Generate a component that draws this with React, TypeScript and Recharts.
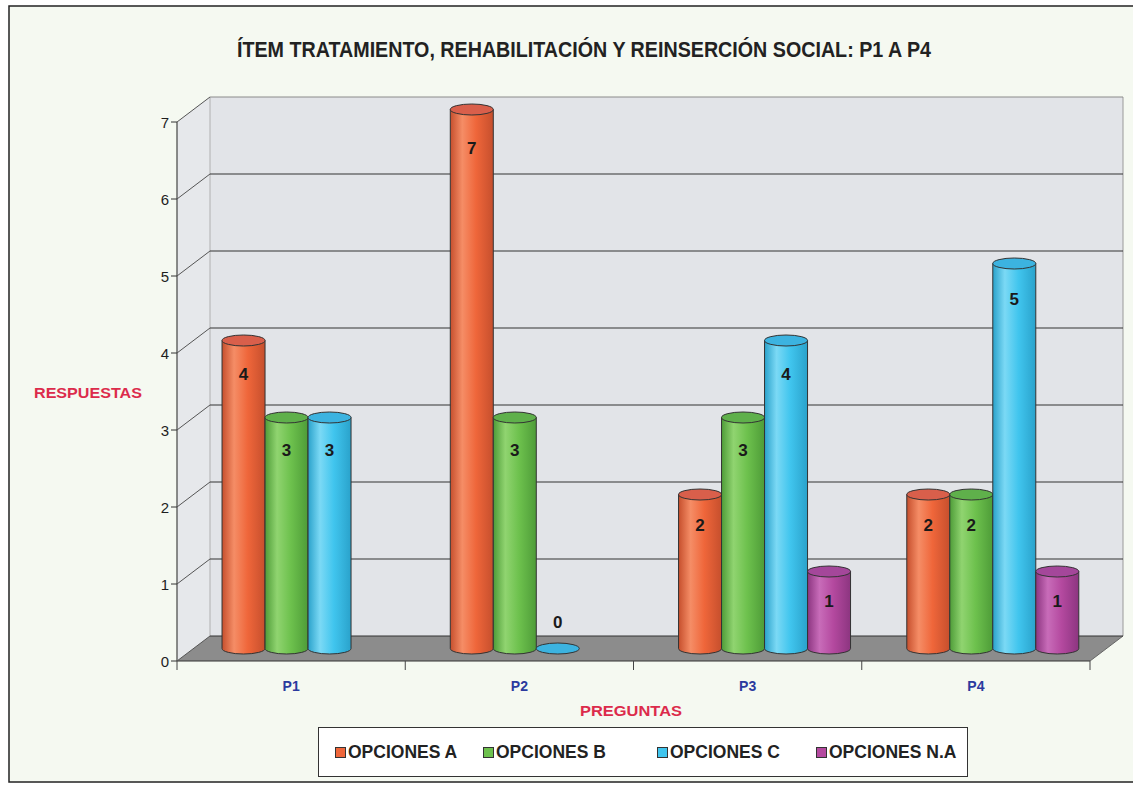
import React from 'react';
import { BarChart, Bar, XAxis, YAxis, CartesianGrid, LabelList, Legend } from 'recharts';

const categories = ['P1', 'P2', 'P3', 'P4'];
const opcionesA = [4, 7, 2, 2];
const opcionesB = [3, 3, 3, 2];
const opcionesC = [3, 0, 4, 5];
const opcionesNA = [null, null, 1, 1];
const yTicks = [0, 1, 2, 3, 4, 5, 6, 7];

const data = categories.map((name, i) => ({
  name,
  A: opcionesA[i],
  B: opcionesB[i],
  C: opcionesC[i],
  NA: opcionesNA[i],
}));

const series = [
  { key: 'A', name: 'OPCIONES A', color: '#ef663a', light: '#f58d66', dark: '#c64f2d', top: '#d95f4b' },
  { key: 'B', name: 'OPCIONES B', color: '#6dc14d', light: '#90d470', dark: '#4e9c38', top: '#5fb04b' },
  { key: 'C', name: 'OPCIONES C', color: '#40c5ee', light: '#7bd9f5', dark: '#2aa2cb', top: '#3cb3e0' },
  { key: 'NA', name: 'OPCIONES N.A', color: '#b4499f', light: '#c86cb9', dark: '#8c3580', top: '#a4479a' },
];

// where each legend entry starts inside the legend box
const legendOffsets = [16, 164, 338, 497];

const W = 1133;
const H = 788;
// plane where the cylinders stand (middle of the 3d box depth)
const PLOT = { left: 193.5, right: 1106.5, top: 109.5, bottom: 648.5 };
const DX = 16.5;
const DY = 12.5;
const BAND = (PLOT.right - PLOT.left) / categories.length;
const FRONT_LEFT = PLOT.left - DX;
const FRONT_RIGHT = PLOT.right - DX;
const FRONT_TOP = PLOT.top + DY;
const FRONT_BOTTOM = PLOT.bottom + DY;
const BACK_LEFT = PLOT.left + DX;
const BACK_RIGHT = PLOT.right + DX;
const BACK_TOP = PLOT.top - DY;
const BACK_BOTTOM = PLOT.bottom - DY;

const FONT = "'Liberation Sans', Arial, sans-serif";
const AXIS_TITLE = '#dc2b4b';

const makeCylinder = (s: any) => (props: any) => {
  const { x, y, width, height, payload } = props;
  if (!payload || payload[s.key] == null || x == null) return <g />;
  const rx = width / 2;
  const ry = 5.5;
  const bottom = y + height;
  return (
    <g>
      {height > 0 && (
        <path
          d={`M${x},${y} L${x},${bottom} A${rx},${ry} 0 0 0 ${x + width},${bottom} L${x + width},${y} Z`}
          fill={`url(#cyl-${s.key})`}
          stroke="#333"
          strokeWidth={1}
        />
      )}
      <ellipse cx={x + rx} cy={y} rx={rx} ry={ry} fill={s.top} stroke="#333" strokeWidth={1} />
    </g>
  );
};

const valueLabel = (props: any) => {
  const vb = props.viewBox && props.viewBox.width != null ? props.viewBox : props;
  const { x, y, width, height } = vb;
  const value = props.value;
  if (value == null || x == null) return null;
  const ty = value === 0 ? y - 26 : y + 28 + height * 0.02;
  return (
    <text x={x + width / 2} y={ty} textAnchor="middle" dominantBaseline="central" fontSize={17} fontWeight="bold" fill="#1a1a1a" fontFamily={FONT}>
      {value}
    </text>
  );
};

const XTick = (props: any) => {
  const { x, payload } = props;
  const index = props.index ?? payload.index;
  const fx = x - DX;
  return (
    <g>
      <line x1={fx - BAND / 2} y1={FRONT_BOTTOM} x2={fx - BAND / 2} y2={FRONT_BOTTOM + 9} stroke="#444" />
      {index === categories.length - 1 && (
        <line x1={fx + BAND / 2} y1={FRONT_BOTTOM} x2={fx + BAND / 2} y2={FRONT_BOTTOM + 9} stroke="#444" />
      )}
      <text x={fx} y={686} textAnchor="middle" dominantBaseline="central" fill="#2b3a9e" fontWeight="bold" fontSize={14} fontFamily={FONT}>
        {payload.value}
      </text>
    </g>
  );
};

const YTick = (props: any) => {
  const { y, payload } = props;
  const fy = y + DY;
  return (
    <g>
      <line x1={FRONT_LEFT - 6} y1={fy} x2={FRONT_LEFT} y2={fy} stroke="#333" />
      <text x={FRONT_LEFT - 8} y={fy} textAnchor="end" dominantBaseline="central" fill="#1e1e1e" fontSize={15} fontFamily={FONT}>
        {payload.value}
      </text>
    </g>
  );
};

const GridLine = (props: any) => {
  const { x1, x2, y1 } = props;
  const by = y1 - DY;
  const isTop = Math.abs(y1 - PLOT.top) < 1;
  return (
    <g>
      <line x1={x1 - DX} y1={y1 + DY} x2={x1 + DX} y2={by} stroke="#555" strokeWidth={1} />
      <line x1={x1 + DX} y1={by} x2={x2 + DX} y2={by} stroke={isTop ? '#8a8a8a' : '#333'} strokeWidth={1} />
    </g>
  );
};

const renderLegend = (props: any) => {
  const payload = props.payload || [];
  return (
    <div
      style={{
        position: 'relative',
        width: 650,
        height: 50,
        boxSizing: 'border-box',
        border: '1px solid #333',
        background: '#fff',
        fontFamily: FONT,
        fontWeight: 'bold',
        fontSize: 17.5,
        color: '#222',
      }}
    >
      {payload.map((p: any, i: number) => (
        <div
          key={p.value}
          style={{ position: 'absolute', left: legendOffsets[i], top: 0, height: 48, display: 'flex', alignItems: 'center', whiteSpace: 'nowrap' }}
        >
          <span style={{ width: 9, height: 9, background: p.color, border: '1px solid #333', marginRight: 2 }} />
          {p.value}
        </div>
      ))}
    </div>
  );
};

export default function App() {
  return (
    <div style={{ position: 'absolute', left: 0, top: 0, width: W, height: H, background: '#ffffff', overflow: 'hidden' }}>
      <svg width={W} height={H} style={{ position: 'absolute', left: 0, top: 0 }}>
        <defs>
          {series.map((s) => (
            <linearGradient key={s.key} id={`cyl-${s.key}`} x1="0" y1="0" x2="1" y2="0">
              <stop offset="0%" stopColor={s.dark} />
              <stop offset="28%" stopColor={s.light} />
              <stop offset="60%" stopColor={s.color} />
              <stop offset="100%" stopColor={s.dark} />
            </linearGradient>
          ))}
        </defs>
        <rect x={9} y={6} width={1140} height={776} fill="#f5f9f1" stroke="#222" strokeWidth={1.5} />
        <rect x={BACK_LEFT} y={BACK_TOP} width={BACK_RIGHT - BACK_LEFT} height={BACK_BOTTOM - BACK_TOP} fill="#e2e4e8" />
        <line x1={BACK_RIGHT} y1={BACK_TOP} x2={BACK_RIGHT} y2={BACK_BOTTOM} stroke="#9a9a9a" />
        <polygon
          points={`${FRONT_LEFT},${FRONT_TOP} ${BACK_LEFT},${BACK_TOP} ${BACK_LEFT},${BACK_BOTTOM} ${FRONT_LEFT},${FRONT_BOTTOM}`}
          fill="#e6e8eb"
        />
        <line x1={BACK_LEFT} y1={BACK_TOP} x2={BACK_LEFT} y2={BACK_BOTTOM} stroke="#b0b0b0" />
        <polygon
          points={`${FRONT_LEFT},${FRONT_BOTTOM} ${FRONT_RIGHT},${FRONT_BOTTOM} ${BACK_RIGHT},${BACK_BOTTOM} ${BACK_LEFT},${BACK_BOTTOM}`}
          fill="#8c8c8c"
        />
        <line x1={FRONT_RIGHT} y1={FRONT_BOTTOM} x2={BACK_RIGHT} y2={BACK_BOTTOM} stroke="#666" />
        <line x1={FRONT_LEFT} y1={FRONT_TOP} x2={FRONT_LEFT} y2={FRONT_BOTTOM} stroke="#444" strokeWidth={1.2} />
        <line x1={FRONT_LEFT} y1={FRONT_BOTTOM} x2={FRONT_RIGHT} y2={FRONT_BOTTOM} stroke="#333" strokeWidth={1.2} />
        <text
          x={584}
          y={49}
          textAnchor="middle"
          dominantBaseline="central"
          fontFamily="'Liberation Sans Narrow', 'Arial Narrow', 'Liberation Sans', sans-serif"
          fontWeight="bold"
          fontSize={22}
          fill="#222"
          textLength={694}
          lengthAdjust="spacingAndGlyphs"
        >
          ÍTEM TRATAMIENTO, REHABILITACIÓN Y REINSERCIÓN SOCIAL: P1 A P4
        </text>
        <text x={88} y={393} textAnchor="middle" dominantBaseline="central" fontFamily={FONT} fontWeight="bold" fontSize={14} fill={AXIS_TITLE} textLength={108} lengthAdjust="spacingAndGlyphs">
          RESPUESTAS
        </text>
        <text x={631} y={711} textAnchor="middle" dominantBaseline="central" fontFamily={FONT} fontWeight="bold" fontSize={14} fill={AXIS_TITLE} textLength={102} lengthAdjust="spacingAndGlyphs">
          PREGUNTAS
        </text>
      </svg>
      <div style={{ position: 'absolute', left: 0, top: 0 }}>
        <BarChart
          width={W}
          height={H}
          data={data}
          margin={{ top: PLOT.top, right: W - PLOT.right, bottom: H - PLOT.bottom - 30, left: PLOT.left - 60 }}
          barCategoryGap="12.5%"
          barGap={0}
          style={{ fontFamily: FONT }}
        >
          <CartesianGrid vertical={false} horizontal={GridLine} />
          <XAxis dataKey="name" height={30} axisLine={false} tickLine={false} tick={XTick} interval={0} />
          <YAxis width={60} domain={[0, 7]} ticks={yTicks} interval={0} axisLine={false} tickLine={false} tick={YTick} />
          <Legend
            layout="vertical"
            align="center"
            verticalAlign="middle"
            content={renderLegend}
            wrapperStyle={{ left: 318, top: 727, width: 650, height: 50 }}
          />
          {series.map((s) => (
            <Bar key={s.key} dataKey={s.key} name={s.name} fill={s.color} shape={makeCylinder(s)} isAnimationActive={false}>
              <LabelList dataKey={s.key} content={valueLabel} />
            </Bar>
          ))}
        </BarChart>
      </div>
    </div>
  );
}
